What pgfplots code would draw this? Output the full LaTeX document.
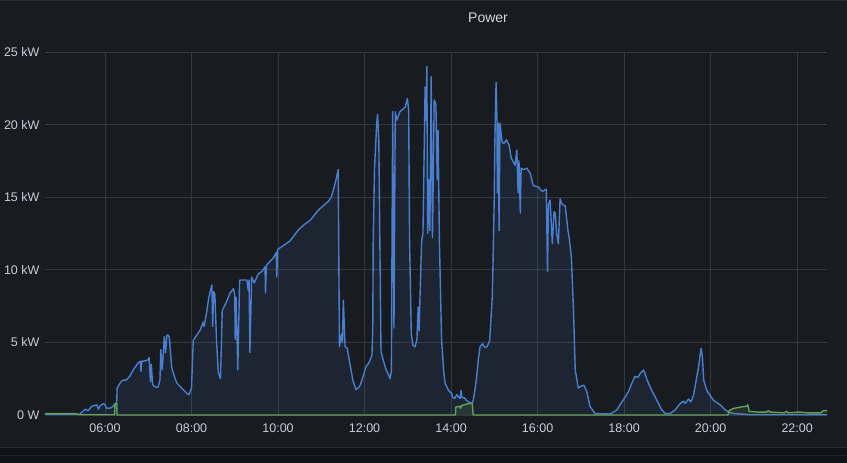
\documentclass[border=0pt]{standalone}
\usepackage{fontspec}
\setmainfont{Liberation Sans}
\usepackage{pgfplots}
\usepackage{pgfplotstable}
\pgfplotsset{compat=1.18}
\definecolor{panel}{HTML}{181B1F}
\definecolor{page}{HTML}{111217}
\definecolor{pborder}{HTML}{2A2D32}
\definecolor{gridc}{HTML}{34373C}
\definecolor{txt}{HTML}{CCCCDC}
\definecolor{blueln}{HTML}{5794F2}
\definecolor{greenln}{HTML}{73BF69}

\pgfplotstableread{
h kw
4.61 0.05
5.42 0.05
5.54 0.4
5.61 0.3
5.69 0.6
5.81 0.7
5.85 0.4
5.88 0.6
5.96 0.8
6.00 0.7
6.04 0.45
6.15 0.5
6.23 0.75
6.27 0.7
6.28 1.85
6.37 2.3
6.42 2.4
6.49 2.4
6.58 2.7
6.65 3.1
6.77 3.6
6.82 3.7
6.83 3.0
6.85 3.7
6.96 3.75
6.99 3.8
7.02 3.95
7.05 2.3
7.07 3.5
7.10 2.1
7.13 2.0
7.18 1.9
7.23 1.95
7.27 2.4
7.29 4.5
7.32 3.1
7.34 3.9
7.37 5.4
7.40 4.3
7.43 5.5
7.46 5.5
7.49 5.3
7.54 3.3
7.60 2.7
7.66 2.2
7.76 1.9
7.89 1.5
7.94 1.4
8.00 1.85
8.04 5.15
8.10 5.4
8.20 5.85
8.27 6.4
8.29 6.1
8.35 7.1
8.40 8.1
8.47 8.95
8.49 6.1
8.51 8.5
8.54 8.3
8.58 5.0
8.62 2.9
8.67 2.5
8.71 7.2
8.81 7.8
8.89 8.4
8.97 8.7
9.00 8.3
9.01 5.2
9.03 8.1
9.07 3.1
9.11 9.05
9.12 9.3
9.28 9.3
9.31 8.6
9.33 9.3
9.35 4.3
9.39 9.5
9.45 9.1
9.54 9.7
9.63 9.9
9.70 10.2
9.71 8.4
9.73 10.3
9.82 10.6
9.89 10.8
9.96 11.2
9.97 9.5
9.99 11.4
10.09 11.6
10.28 12.0
10.47 12.75
10.60 13.1
10.74 13.4
10.93 14.1
11.04 14.4
11.16 14.7
11.23 15.0
11.28 15.5
11.34 16.2
11.39 16.9
11.42 4.7
11.47 5.6
11.49 5.0
11.51 7.9
11.55 4.7
11.60 4.6
11.66 3.55
11.73 2.4
11.80 1.75
11.85 1.85
11.90 2.05
11.97 2.7
12.03 3.3
12.10 3.6
12.17 4.1
12.19 6.0
12.20 12.05
12.23 17.0
12.28 20.0
12.30 20.7
12.33 18.9
12.35 13.0
12.38 4.35
12.43 3.8
12.50 3.1
12.55 2.8
12.59 2.5
12.62 3.0
12.65 20.9
12.68 6.0
12.71 20.9
12.74 20.3
12.82 20.9
12.94 21.2
12.99 21.8
13.02 21.0
13.04 12.05
13.08 5.6
13.12 4.8
13.17 4.7
13.21 5.2
13.24 7.45
13.26 5.8
13.29 9.0
13.32 12.05
13.35 12.5
13.40 22.6
13.42 20.3
13.44 24.0
13.46 12.5
13.48 16.2
13.51 12.7
13.54 23.3
13.57 12.2
13.61 21.7
13.65 21.4
13.68 16.2
13.70 19.6
13.73 12.0
13.78 5.2
13.83 3.0
13.86 2.2
13.94 1.7
14.01 1.5
14.04 1.2
14.09 1.15
14.13 1.4
14.18 1.2
14.21 1.15
14.23 1.7
14.25 1.2
14.30 1.2
14.36 1.0
14.41 0.9
14.48 0.8
14.51 1.0
14.55 1.7
14.59 2.6
14.63 3.8
14.67 4.7
14.73 4.9
14.78 4.65
14.83 4.7
14.89 5.1
14.91 6.0
14.95 8.0
14.97 10.5
15.00 15.3
15.01 18.5
15.04 22.9
15.06 20.5
15.07 15.3
15.09 20.1
15.11 12.7
15.13 20.1
15.18 18.8
15.22 18.7
15.28 18.95
15.34 18.6
15.39 17.7
15.48 17.2
15.52 18.25
15.55 15.3
15.57 17.5
15.60 13.9
15.62 17.0
15.67 16.9
15.75 17.0
15.83 16.65
15.90 15.8
16.02 15.7
16.10 15.4
16.20 15.55
16.23 9.9
16.25 14.5
16.29 14.8
16.34 11.8
16.38 14.0
16.41 13.9
16.44 12.5
16.48 11.8
16.52 14.9
16.55 14.6
16.60 14.45
16.64 14.4
16.70 12.75
16.73 12.2
16.78 10.9
16.83 7.25
16.87 3.1
16.91 2.4
16.94 1.85
17.01 2.0
17.07 2.05
17.14 1.6
17.21 0.6
17.33 0.1
17.68 0.07
17.83 0.35
17.95 0.9
18.10 1.6
18.18 2.2
18.25 2.65
18.32 2.6
18.37 2.85
18.45 3.1
18.49 2.8
18.52 2.5
18.62 1.8
18.76 1.0
18.86 0.4
18.95 0.1
19.06 0.1
19.18 0.35
19.30 0.8
19.37 0.95
19.41 0.8
19.49 1.1
19.54 0.9
19.60 1.3
19.64 1.95
19.72 3.3
19.76 4.2
19.78 4.6
19.81 4.0
19.84 2.4
19.90 1.8
19.95 1.5
20.07 1.0
20.22 0.7
20.32 0.4
20.41 0.2
20.53 0.1
20.91 0.02
22.69 0.02
}\bluedata

\pgfplotstableread{
h kw
4.61 0.1
5.30 0.1
5.42 0.02
6.22 0.02
6.23 0.8
6.27 0.8
6.28 0.0
14.10 0.0
14.11 0.55
14.20 0.6
14.22 0.45
14.24 0.65
14.36 0.75
14.45 0.8
14.49 0.8
14.51 0.0
20.40 0.0
20.43 0.3
20.53 0.45
20.70 0.55
20.82 0.6
20.86 0.7
20.89 0.25
21.10 0.2
21.30 0.2
21.33 0.3
21.38 0.2
21.70 0.15
21.75 0.25
21.80 0.15
22.05 0.2
22.25 0.15
22.55 0.15
22.60 0.3
22.69 0.3
}\greendata

\begin{document}
\begin{tikzpicture}[x=1pt,y=1pt]
\useasboundingbox (0,0) rectangle (847,463);
\fill[page] (0,0) rectangle (847,463);
\fill[panel] (0,15) rectangle (847,463);
\draw[pborder, line width=1pt] (0,15.5) -- (847,15.5);
\draw[pborder, line width=1pt] (0,462.5) -- (847,462.5);
\draw[pborder!70!page, line width=0.8pt] (0,8) -- (847,8);
\node[text=txt!80!white, font=\fontsize{14}{16}\selectfont] at (488,445) {Power};
\begin{axis}[
  at={(45pt,48pt)}, anchor=south west,
  scale only axis, width=782pt, height=363pt,
  xmin=4.613, xmax=22.69, ymin=0, ymax=25,
  clip=false,
  axis line style={draw=none},
  major tick length=0pt,
  grid=major,
  major grid style={gridc, line width=0.8pt},
  xtick={6,8,10,12,14,16,18,20,22},
  xticklabels={06:00,08:00,10:00,12:00,14:00,16:00,18:00,20:00,22:00},
  ytick={0,5,10,15,20,25},
  yticklabels={0 W,5 kW,10 kW,15 kW,20 kW,25 kW},
  tick label style={text=txt, font=\fontsize{12.5}{14}\selectfont},
  xticklabel style={yshift=-5pt},
  yticklabel style={xshift=-2pt},
]
\addplot[draw=none, fill=blueln, fill opacity=0.09] table[x=h,y=kw]{\bluedata} \closedcycle;
\addplot[blueln!85!black, line width=1.4pt, line join=round] table[x=h,y=kw]{\bluedata};
\addplot[draw=none, fill=greenln, fill opacity=0.12] table[x=h,y=kw]{\greendata} \closedcycle;
\addplot[greenln!85!black, line width=1.4pt, line join=round] table[x=h,y=kw]{\greendata};
\end{axis}
\end{tikzpicture}
\end{document}
